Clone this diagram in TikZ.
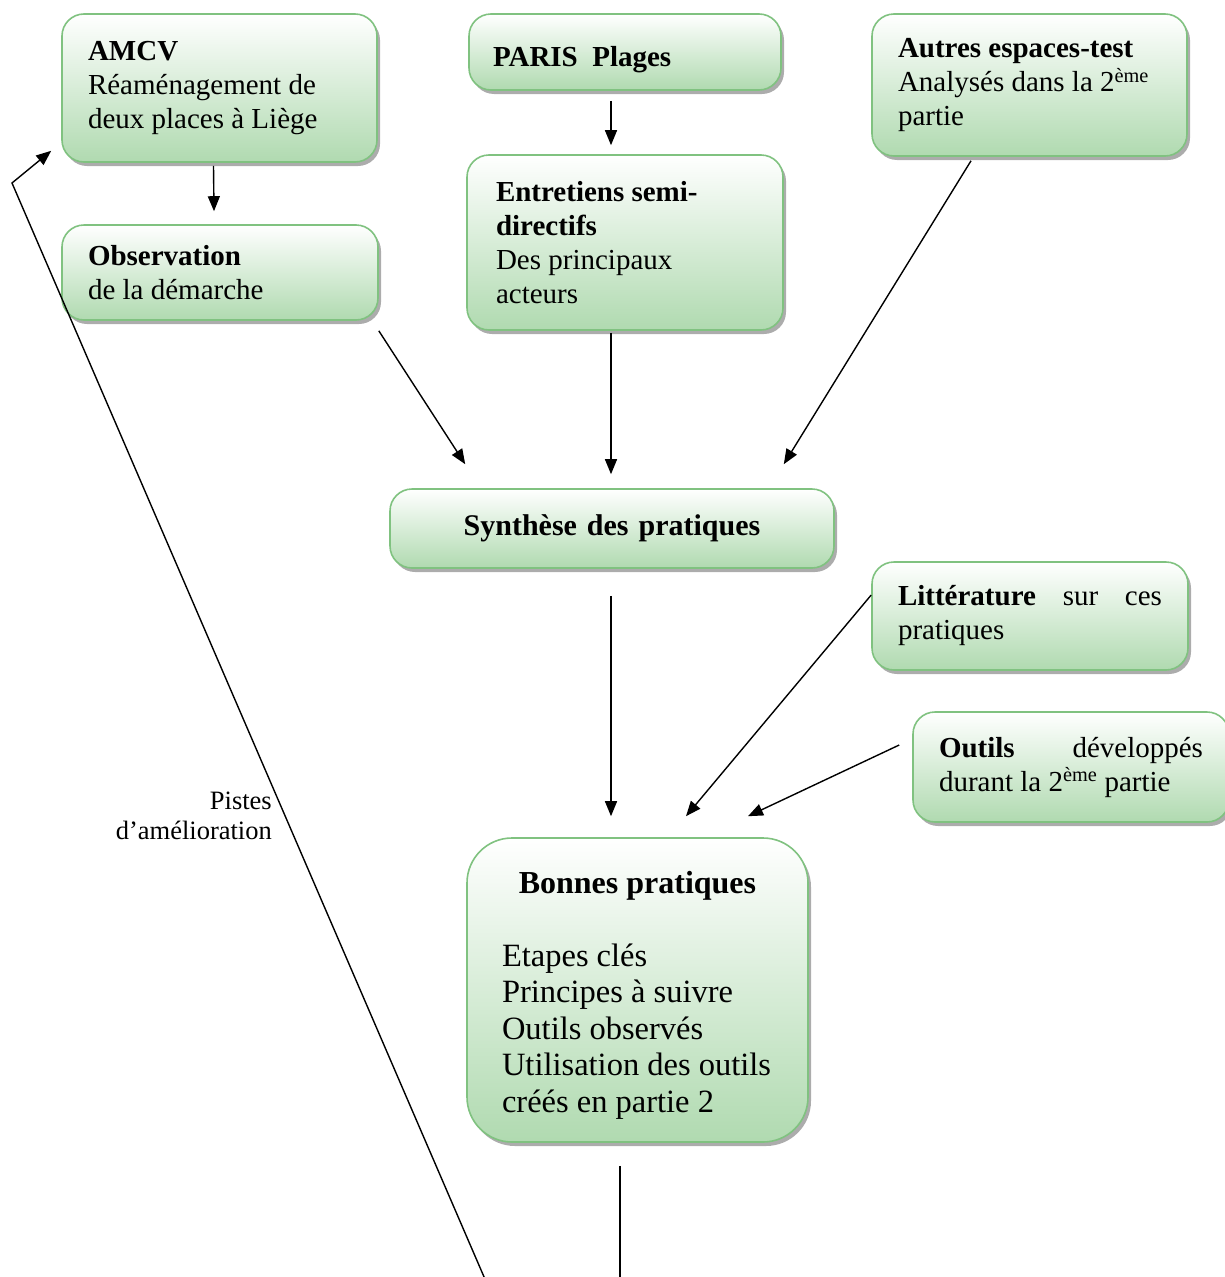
\documentclass[tikz,border=0pt]{standalone}
\usepackage{fontspec}
\setmainfont{Liberation Serif}
\usetikzlibrary{arrows.meta,shadows}
\definecolor{boxline}{RGB}{128,194,128}
\definecolor{boxfill}{RGB}{176,218,176}
\tikzset{
  box/.style={draw=boxline, line width=1.6pt, rounded corners=22pt,
    top color=white, bottom color=boxfill,
    drop shadow={shadow xshift=3pt, shadow yshift=-4pt, fill=gray!65, opacity=1},
    inner xsep=26pt, inner ysep=0pt, align=flush left,
    font=\fontsize{29}{34}\selectfont},
  arr/.style={line width=1.4pt, -{Triangle[length=15pt,width=12pt]}},
}
\begin{document}
\begin{tikzpicture}[x=1pt,y=-1pt]
\useasboundingbox (0,0) rectangle (1224,1277);
% top row
\node[box, text width=263pt, minimum height=148pt] (amcv) at (219.5,88)
  {\textbf{AMCV}\\Réaménagement de\\deux places à Liège};
\node[box, text width=264pt, minimum height=76pt, inner xsep=24pt] (paris) at (625,52)
  {\rule{0pt}{36pt}\textbf{PARIS\ \ Plages}};
\node[box, text width=263pt, minimum height=142pt] (autres) at (1029.5,85)
  {\textbf{Autres espaces-test}\\Analysés dans la 2\textsuperscript{ème}\\partie};
\node[box, text width=264pt, minimum height=95pt] (obs) at (220,272.5)
  {\textbf{Observation}\\de la démarche};
\node[box, text width=258pt, minimum height=175pt, inner xsep=29pt] (ent) at (625,242.5)
  {\textbf{Entretiens semi-}\\\textbf{directifs}\\Des principaux\\acteurs};
% middle
\node[box, text width=392pt, minimum height=79pt, align=center,
  font=\fontsize{30}{34}\selectfont] (synth) at (612,528.5)
  {\textbf{Synthèse des pratiques}};
\node[box, text width=264pt, minimum height=108pt] (litt) at (1030,616)
  {\textbf{Littérature}\hfill sur\hfill ces\\pratiques};
\node[box, text width=264pt, minimum height=110pt] (outils) at (1071,767)
  {\textbf{Outils}\hfill développés\\durant la 2\textsuperscript{ème} partie};
\node[box, rounded corners=45pt, text width=271pt, inner xsep=35pt, minimum height=304pt,
  font=\fontsize{32.5}{36.5}\selectfont] (bonnes) at (637.5,990)
  {\rule{0pt}{32pt}\makebox[\linewidth]{\fontsize{32}{36.5}\selectfont\textbf{Bonnes pratiques}}\\[36.5pt]Etapes clés\\Principes à suivre\\Outils observés\\Utilisation des outils\\créés en partie 2};
% arrows
\draw[arr] ([xshift=-6pt,yshift=-3pt]amcv.south) -- ([xshift=-6pt,yshift=13pt]obs.north);
\draw[arr] ([xshift=-14pt,yshift=-10pt]paris.south) -- ([xshift=-14pt,yshift=9pt]ent.north);
\draw[arr] ([yshift=-10pt]obs.south east) -- ([xshift=76pt,yshift=24pt]synth.north west);
\draw[arr] ([xshift=-14pt,yshift=-2pt]ent.south) -- ([xshift=-1pt,yshift=14pt]synth.north);
\draw[arr] ([xshift=-58.5pt,yshift=-4pt]autres.south) -- ([xshift=-51pt,yshift=24pt]synth.north east);
\draw[arr] ([xshift=-1pt,yshift=-27pt]synth.south) -- ([xshift=-26.5pt,yshift=21pt]bonnes.north);
\draw[arr] ([yshift=21pt]litt.west) -- ([xshift=48.5pt,yshift=21pt]bonnes.north);
\draw[arr] ([xshift=-13pt,yshift=22pt]outils.west) -- ([xshift=110.5pt,yshift=21pt]bonnes.north);
% going down and back up
\coordinate (suite) at (620,1300);
\draw[line width=1.4pt] ([xshift=-17.5pt,yshift=-23pt]bonnes.south) -- (suite);
\coordinate (retour) at (494,1300);
\coordinate (coude) at (12,183);
\draw[arr] (retour) -- (coude) -- ([xshift=-10pt,yshift=12pt]amcv.south west);
\node[anchor=north east, inner sep=0pt, align=right, font=\fontsize{26.5}{30}\selectfont] (pistes) at (272,792)
  {Pistes\\d’amélioration};
\end{tikzpicture}
\end{document}
